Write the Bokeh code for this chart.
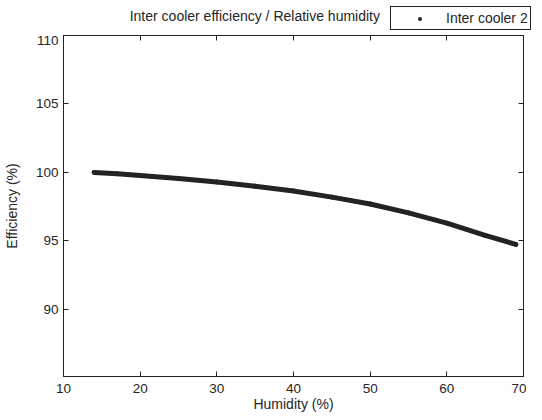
from bokeh.plotting import figure
from bokeh.layouts import column
from bokeh.models import (Range1d, FixedTicker, LinearAxis, Div, CustomJSTickFormatter)
from bokeh.embed import file_html
from bokeh.resources import INLINE

# Data
humidity = [14, 17, 20, 25, 30, 35, 40, 45, 50, 55, 60, 65, 69]
efficiency = [100.0, 99.9, 99.78, 99.55, 99.3, 99.0, 98.65, 98.2, 97.7, 97.05, 96.3, 95.4, 94.75]
x_ticks = [10, 20, 30, 40, 50, 60, 70]
y_ticks = [90, 95, 100, 105, 110]
title_text = "Inter cooler efficiency / Relative humidity"
series_name = "Inter cooler 2"

FONT = "Liberation Sans"
TXT = "#262626"
INK = "#232323"

# ---------- main plot ----------
p = figure(width=526, height=379, output_backend="svg", toolbar_location=None,
           x_range=Range1d(10, 70), y_range=Range1d(85.1, 110),
           min_border_left=55, min_border_right=3, min_border_top=0, min_border_bottom=35)
p.grid.visible = False
p.outline_line_color = "#222222"
p.background_fill_color = "white"
p.border_fill_color = "white"

for ax in (p.xaxis[0], p.yaxis[0]):
    ax.major_tick_in = 5
    ax.major_tick_out = 0
    ax.minor_tick_line_color = None
    ax.axis_line_color = "#222222"
    ax.major_tick_line_color = "#222222"
    ax.major_label_text_font = FONT
    ax.major_label_text_font_size = "13.5px"
    ax.major_label_text_color = TXT
    ax.axis_label_text_font = FONT
    ax.axis_label_text_font_size = "14px"
    ax.axis_label_text_font_style = "normal"
    ax.axis_label_text_color = TXT

p.xaxis[0].ticker = FixedTicker(ticks=x_ticks)
p.yaxis[0].ticker = FixedTicker(ticks=y_ticks)
p.xaxis[0].axis_label = "Humidity (%)"
p.yaxis[0].axis_label = "Efficiency (%)"
p.xaxis[0].major_label_standoff = 7
p.xaxis[0].axis_label_standoff = 0
p.yaxis[0].major_label_standoff = 5
p.yaxis[0].axis_label_standoff = 13

blank = CustomJSTickFormatter(code="return ''")
# mirrored tick marks (top / right)
right = LinearAxis(ticker=FixedTicker(ticks=y_ticks), formatter=blank, major_tick_in=5,
                   major_tick_out=0, minor_tick_line_color=None, major_label_standoff=0,
                   major_label_text_font_size="0px", axis_label_standoff=0,
                   axis_line_color="#222222", major_tick_line_color="#222222")
p.add_layout(right, "right")
top = LinearAxis(ticker=FixedTicker(ticks=x_ticks), formatter=blank, major_tick_in=5,
                 major_tick_out=0, minor_tick_line_color=None, major_label_standoff=0,
                 major_label_text_font_size="0px", axis_label_standoff=0,
                 axis_line_color="#222222", major_tick_line_color="#222222")
p.add_layout(top, "above")

p.line(humidity, efficiency, line_width=5, line_color=INK, line_cap="round", line_join="round")
p.scatter(humidity, efficiency, size=4, marker="circle", fill_color=INK, line_color=INK)

# ---------- header row: title + legend box ----------
header_html = f"""
<div style="position:relative;width:526px;height:25px;font-family:'{FONT}';color:{TXT};">
  <span style="position:absolute;right:151px;top:3px;font-size:14px;line-height:16px;white-space:nowrap;">{title_text}</span>
  <div style="position:absolute;left:385px;top:1px;width:141px;height:24px;box-sizing:border-box;
              border:1px solid #222222;background:white;">
    <div style="position:absolute;left:27px;top:10px;width:4px;height:4px;border-radius:50%;background:{INK};"></div>
    <span style="position:absolute;left:55px;top:3px;font-size:14px;line-height:16px;white-space:nowrap;">{series_name}</span>
  </div>
</div>
"""
hdr = Div(text=header_html, width=526, height=25)

layout = column(hdr, p, spacing=0)
open("out.html", "w").write(file_html(layout, INLINE))
